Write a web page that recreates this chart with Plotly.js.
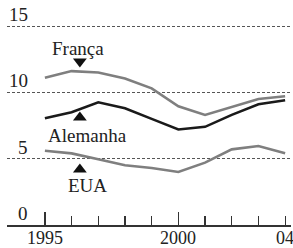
<!DOCTYPE html>
<html><head><meta charset="utf-8">
<script src="https://cdn.plot.ly/plotly-3.0.1.min.js"></script>
<style>html,body{margin:0;padding:0;background:#fff}#c{width:293px;height:248px}</style>
</head><body><div id="c"></div>
<script>
const years = [1995,1996,1997,1998,1999,2000,2001,2002,2003,2004];
const franca = [11.1,11.6,11.5,11.05,10.3,8.95,8.3,8.9,9.5,9.7];
const alemanha = [8.05,8.5,9.25,8.8,8.0,7.2,7.4,8.3,9.1,9.4];
const eua = [5.6,5.4,4.95,4.5,4.3,4.0,4.7,5.7,5.95,5.4];
const seriesNames = ['França','Alemanha','EUA'];
const yTicks = [0,5,10,15];
const xTickVals = [1995,2000,2004];
const xTickText = ['1995','2000','04'];
const xMajor = [1995,2000];

const font = {family:"'Liberation Serif', 'Times New Roman', serif", size:19, color:'#222'};
const tickFont = {family:font.family, size:18, color:'#222'};
const traces = [
 {x:years,y:franca,mode:'lines',line:{color:'#7f7f7f',width:2.6},name:seriesNames[0]},
 {x:years,y:alemanha,mode:'lines',line:{color:'#1a1a1a',width:2.6},name:seriesNames[1]},
 {x:years,y:eua,mode:'lines',line:{color:'#7f7f7f',width:2.6},name:seriesNames[2]},
 {x:[1996.31],y:[12.32],mode:'markers',marker:{symbol:'triangle-down',size:12,color:'#111'},hoverinfo:'skip'},
 {x:[1996.31,1996.31],y:[8.1,4.18],mode:'markers',marker:{symbol:'triangle-up',size:12,color:'#111'},hoverinfo:'skip'}
];
const labelPos = [[1996.25,13.31],[1996.61,6.78],[1996.59,3.01]];
const annotations = seriesNames.map((t,i)=>({x:labelPos[i][0],y:labelPos[i][1],text:t,showarrow:false,font:font,xanchor:'center',yanchor:'middle'}));
yTicks.forEach(v=>annotations.push({xref:'paper',x:0.081,y:v,text:String(v),showarrow:false,font:font,xanchor:'right',yanchor:'bottom',yshift:-1}));
xTickVals.forEach((v,i)=>annotations.push({x:v,yref:'paper',y:0,text:xTickText[i],showarrow:false,font:tickFont,xanchor:'center',yanchor:'top',yshift:-2,borderpad:0}));
const layout = {
 width:293,height:248,margin:{l:7,r:2,t:0,b:23},
 paper_bgcolor:'#fff',plot_bgcolor:'#fff',showlegend:false,font:font,
 xaxis:{range:[1993.58,2004.22],showgrid:false,zeroline:false,showline:true,linecolor:'#333',linewidth:1.5,
   ticks:'inside',ticklen:13,tickwidth:1.2,tickcolor:'#333',tickvals:xMajor,showticklabels:false,
   minor:{tickvals:years,ticks:'inside',ticklen:9,tickwidth:1.2,tickcolor:'#333',showgrid:false}},
 yaxis:{range:[0,16.96],tickvals:yTicks.slice(1),showticklabels:false,ticks:'',showgrid:true,griddash:'3px,2px',
   gridcolor:'#555',gridwidth:1,zeroline:false,showline:false},
 annotations:annotations
};
Plotly.newPlot('c',traces,layout,{staticPlot:true});
</script></body></html>
